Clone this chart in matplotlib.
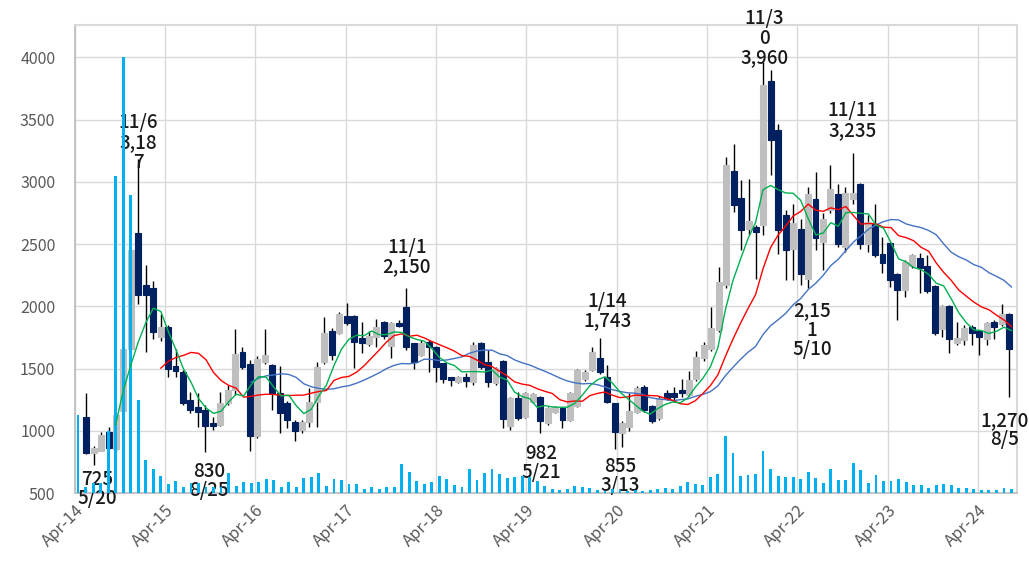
import matplotlib
matplotlib.use('Agg')
import matplotlib.pyplot as plt
import numpy as np
import pandas as pd

plt.rcParams['font.family'] = ['Noto Sans CJK JP', 'DejaVu Sans']

# monthly candles Apr-14 .. Aug-24
months = pd.date_range('2014-04-01', '2024-08-01', freq='MS')

opens = [1110, 820, 840, 990, 850, 1155, 1660, 2590, 2170, 2150, 1750, 1830, 1520, 1475, 1245, 1190,
         1165, 1060, 1045, 1220, 1325, 1630, 1540, 960, 1555, 1528, 1300, 1220, 1073, 1005, 1073, 1233,
         1554, 1800, 1787, 1921, 1921, 1742, 1694, 1755, 1875, 1680, 1867, 1991, 1707, 1608, 1715, 1675,
         1541, 1429, 1394, 1429, 1394, 1707, 1554, 1380, 1562, 1038, 1260, 1108, 1233, 1273, 1064, 1153,
         1180, 1086, 1198, 1420, 1487, 1581, 1434, 1220, 979, 1030, 1150, 1355, 1198, 1100, 1300, 1300,
         1327, 1290, 1420, 1581, 1661, 1809, 2170, 3085, 2874, 2625, 2640, 2650, 3810, 3414, 2730, 2464,
         2625, 2223, 2866, 2518, 2772, 2900, 2477, 2866, 2986, 2504, 2665, 2424, 2509, 2258, 2130, 2322,
         2392, 2322, 2164, 1814, 2001, 1702, 1728, 1835, 1803, 1734, 1875, 1857, 1942]
highs = [1300, 880, 990, 1030, 1140, 1670, 2460, 3187, 2330, 2200, 1940, 1850, 1660, 1490, 1315, 1300,
         1210, 1110, 1310, 1370, 1820, 1670, 1570, 1600, 1820, 1540, 1520, 1240, 1090, 1090, 1340, 1554,
         1915, 1822, 1956, 2023, 1930, 1875, 1800, 1902, 1880, 1875, 1889, 2150, 1707, 1728, 1728, 1680,
         1545, 1435, 1440, 1466, 1715, 1715, 1648, 1510, 1568, 1270, 1313, 1310, 1300, 1279, 1190, 1200,
         1190, 1310, 1500, 1490, 1675, 1743, 1528, 1225, 1080, 1300, 1360, 1365, 1210, 1280, 1330, 1350,
         1420, 1480, 1640, 1715, 1996, 2317, 3200, 3307, 3013, 3026, 2650, 3960, 3896, 3468, 2777, 2825,
         2700, 2959, 3079, 2750, 3133, 2986, 2959, 3235, 2990, 2732, 2825, 2558, 2520, 2270, 2370, 2424,
         2429, 2411, 2170, 2009, 2010, 1875, 1849, 1849, 1810, 1875, 1889, 2017, 1950]
lows = [810, 725, 835, 850, 840, 1150, 1650, 2020, 1635, 1735, 1720, 1430, 1430, 1205, 1140, 1030,
        830, 1010, 1040, 1210, 1290, 1500, 840, 945, 1540, 1166, 980, 1020, 920, 985, 1032, 1032,
        1540, 1568, 1780, 1850, 1501, 1627, 1680, 1675, 1740, 1581, 1830, 1653, 1493, 1600, 1474, 1394,
        1386, 1359, 1380, 1353, 1367, 1500, 1353, 1370, 1019, 1010, 1090, 1100, 1220, 982, 1050, 1140,
        1019, 1080, 1190, 1400, 1480, 1460, 1220, 855, 870, 1000, 1140, 1150, 1060, 1090, 1250, 1230,
        1270, 1280, 1400, 1560, 1640, 1790, 2150, 2758, 2451, 2571, 2223, 2571, 3053, 2419, 2210, 2210,
        2170, 2151, 2450, 2290, 2750, 2480, 2440, 2820, 2464, 2437, 2400, 2264, 2156, 1894, 2076, 2310,
        2108, 2110, 1768, 1755, 1621, 1690, 1688, 1688, 1608, 1688, 1740, 1840, 1270]
closes = [820, 860, 965, 860, 1125, 1660, 2450, 2090, 2090, 1790, 1830, 1500, 1480, 1225, 1165, 1150,
          1040, 1040, 1220, 1325, 1620, 1515, 960, 1580, 1610, 1300, 1140, 1086, 1000, 1070, 1233, 1514,
          1782, 1608, 1935, 1862, 1715, 1702, 1760, 1835, 1760, 1867, 1841, 1675, 1554, 1707, 1675, 1514,
          1413, 1407, 1429, 1402, 1688, 1514, 1394, 1501, 1092, 1260, 1100, 1300, 1295, 1081, 1180, 1193,
          1086, 1300, 1487, 1474, 1634, 1474, 1233, 992, 1060, 1160, 1340, 1166, 1080, 1260, 1265, 1275,
          1300, 1407, 1590, 1688, 1822, 2196, 3133, 2812, 2611, 2684, 2600, 3780, 3339, 2611, 2450, 2670,
          2260, 2900, 2550, 2705, 2946, 2499, 2913, 2913, 2504, 2678, 2411, 2349, 2215, 2130, 2357, 2411,
          2304, 2124, 1787, 2001, 1734, 1742, 1822, 1782, 1750, 1862, 1835, 1942, 1661]
volume = [626, 51, 83, 83, 500, 2545, 3500, 2392, 747, 262, 194, 136, 75, 95, 51, 78,
          80, 51, 51, 48, 163, 56, 87, 78, 91, 114, 102, 48, 91, 46, 117, 126,
          158, 56, 114, 102, 72, 72, 30, 45, 30, 48, 45, 233, 171, 99, 72, 86,
          136, 110, 64, 45, 190, 104, 158, 195, 152, 118, 126, 136, 126, 99, 56, 29,
          27, 29, 56, 45, 37, 27, 20, 29, 22, 20, 22, 20, 22, 29, 37, 29,
          56, 91, 72, 64, 126, 153, 455, 322, 138, 144, 153, 334, 193, 140, 130, 128,
          112, 168, 118, 83, 192, 108, 102, 240, 185, 78, 142, 99, 99, 112, 91, 64,
          64, 37, 64, 70, 64, 37, 37, 34, 24, 24, 24, 40, 30]

notes = ["725\n5/20", "11/6\n3,18\n7", "830\n8/25", "11/1\n2,150", "982\n5/21",
         "1/14\n1,743", "855\n3/13", "11/3\n0\n3,960", "2,15\n1\n5/10", "11/11\n3,235", "1,270\n8/5"]
note_pos = [(1.45, 532), (7.0, 3318), (16.5, 596), (43.1, 2395), (61.1, 741),
            (70.0, 1961), (71.7, 636), (91.1, 4153), (97.5, 1809), (103.0, 3494), (123.4, 1006)]

close_s = pd.Series(closes)
ma6 = close_s.rolling(6).mean()
ma12 = close_s.rolling(12).mean()
ma24 = close_s.rolling(24).mean()

n = len(months)
k = np.arange(n)
t = k + 0.44

fig = plt.figure(figsize=(10.29, 5.63), dpi=100)
rect = [0.0726, 0.1243, 0.9157, 0.8313]
ax = fig.add_axes(rect)
axc = fig.add_axes(rect, sharey=ax)
axv = fig.add_axes(rect, sharex=ax)
axm = fig.add_axes(rect, sharex=ax, sharey=ax)

# base axis: grid + ticks
ax.set_xlim(0, 125.17)
ax.set_ylim(500, 4260)
ax.set_yticks(range(500, 4001, 500))
ax.set_xticks(k[::12])
ax.set_xticklabels([d.strftime('%b-%y') for d in months[::12]])
ax.grid(True, color='#d9d9d9', lw=1.0)
ax.set_axisbelow(True)
ax.tick_params(length=0, labelsize=11.5, labelcolor='#595959')
ax.tick_params(axis='y', pad=14)
ax.tick_params(axis='x', pad=6, labelsize=12)
for lab in ax.get_xticklabels():
    lab.set_rotation(45)
    lab.set_ha('right')
    lab.set_rotation_mode('anchor')
for side in ['left', 'bottom']:
    ax.spines[side].set_color('#bfbfbf')
    ax.spines[side].set_linewidth(1.3)
for side in ['top', 'right']:
    ax.spines[side].set_color('#d9d9d9')
    ax.spines[side].set_linewidth(1.5)

# candles (category axis)
axc.set_xlim(-1.545, 125.07)
axc.set_axis_off()
o = np.array(opens)
c = np.array(closes)
up = c >= o
cols = np.where(up, '#bfbfbf', '#002060')
axc.vlines(k, lows, highs, color='black', lw=1.0, zorder=1)
axc.bar(k, np.abs(c - o), bottom=np.minimum(o, c), width=0.8, color=cols,
        edgecolor=cols, linewidth=0.8, zorder=2)

# volume
axv.set_ylim(0, 3760)
axv.set_axis_off()
axv.bar(t, volume, width=0.38, color='#00b0f0')

# moving averages
axm.set_axis_off()
axm.plot(t, ma24, color='#4472c4', lw=1.0)
axm.plot(t, ma12, color='#ff0000', lw=1.0)
axm.plot(t, ma6, color='#00b050', lw=1.0)

for txt, (xk, yv) in zip(notes, note_pos):
    axc.text(xk, yv, txt, ha='center', va='center', fontsize=13.5, fontweight='medium',
             color='#1a1a1a', linespacing=1.05, clip_on=False)

# title sits above the canvas, only its lowest strokes show
fig.text(55 / 1029, 1.0 + 4 / 563, '月足株価の推移', fontsize=26, va='baseline', ha='left')

fig.savefig('out.png', dpi=100)
